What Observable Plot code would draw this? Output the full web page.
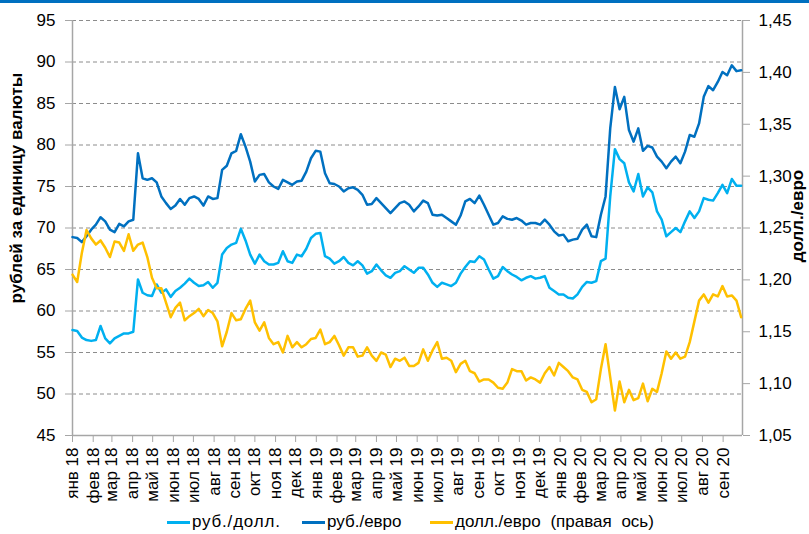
<!DOCTYPE html>
<html><head><meta charset="utf-8">
<script src="https://cdn.jsdelivr.net/npm/d3@7"></script>
<script src="https://cdn.jsdelivr.net/npm/@observablehq/plot@0.6"></script>
<style>
body{margin:0;background:#fff;font-family:"Liberation Sans",Arial,sans-serif;}
#wrap{position:relative;width:809px;height:534px;overflow:hidden;background:#fff;}
#topline{position:absolute;left:0;top:0;width:809px;height:3px;background:#0070C0;}
#chart{position:absolute;left:0;top:0;}
.ytitle{position:absolute;font-weight:bold;font-size:17px;white-space:nowrap;transform:translate(-50%,-50%) rotate(-90deg);color:#000;}
#legend{position:absolute;top:508px;left:0;width:809px;height:28px;font-size:17px;color:#000;}
.item{position:absolute;top:0;height:28px;display:flex;align-items:center;white-space:pre;}
.swatch{display:inline-block;width:23px;height:3px;margin-right:2px;}
</style></head>
<body>
<div id="wrap">
  <div id="topline"></div>
  <div id="chart"></div>
  <div class="ytitle" style="left:17px;top:188px;">рублей за единицу валюты</div>
  <div class="ytitle" style="left:798px;top:216px;">долл./евро</div>
  <div id="legend"></div>
</div>
<script>
// ---- data (weekly observations from 2018-01-01) ----
const startDate = "2018-01-01";
const stepDays = 7;
const rubUsd = [
57.7,57.6,56.8,56.5,56.4,56.5,58.2,56.7,56.1,56.7,
57.0,57.3,57.3,57.5,63.8,62.2,61.9,61.8,63.2,62.2,
62.6,61.7,62.4,62.8,63.3,63.9,63.4,63.0,63.1,63.5,
62.8,63.4,66.8,67.6,68.0,68.2,69.9,68.5,66.8,65.7,
66.8,66.0,65.6,65.6,65.8,67.2,66.0,65.8,66.8,66.6,
67.5,68.8,69.3,69.4,66.6,66.3,65.7,66.0,66.5,65.8,
65.5,66.0,65.5,64.5,64.8,65.6,64.9,64.3,64.0,64.6,
64.8,65.4,65.0,64.6,65.2,65.2,64.4,63.4,62.9,63.4,
63.2,63.0,63.4,64.5,65.3,66.0,65.9,66.6,66.2,65.0,
63.9,64.2,65.3,64.8,64.4,64.1,63.7,64.0,64.2,63.9,
64.0,64.2,62.8,62.4,62.0,62.0,61.6,61.5,62.0,62.9,
63.5,63.4,63.6,66.0,66.3,73.8,79.5,78.3,77.8,75.5,
74.4,76.5,73.8,74.9,74.3,72.0,71.0,69.0,69.5,70.0,
69.5,70.8,72.0,71.2,72.0,73.6,73.4,73.3,74.2,75.2,
74.2,75.9,75.1,75.1];
const rubEur = [
68.9,68.8,68.3,69.0,69.8,70.4,71.3,70.8,69.8,69.5,
70.5,70.2,70.8,71.0,79.0,76.0,75.8,76.0,75.5,73.8,
73.0,72.3,72.7,73.5,72.8,73.6,73.8,73.5,72.7,73.8,
73.5,73.6,77.0,77.5,79.0,79.3,81.3,79.8,78.0,75.6,
76.4,76.5,75.5,75.0,74.7,75.8,75.5,75.2,75.6,75.7,
76.8,78.4,79.3,79.2,76.6,75.4,75.3,75.0,74.4,74.8,
74.9,74.6,74.0,72.8,72.9,73.6,73.0,72.4,71.8,72.4,
73.0,73.2,72.8,72.0,72.6,73.3,73.0,71.6,71.5,71.6,
71.2,70.8,70.4,71.5,73.2,73.5,73.0,73.9,72.8,71.6,
70.4,70.6,71.4,71.1,71.0,71.2,70.9,70.4,70.6,70.6,
70.4,71.0,70.4,69.6,69.1,69.2,68.4,68.6,68.7,69.8,
70.4,69.0,68.9,71.6,73.8,82.0,87.0,84.3,85.8,81.8,
80.4,82.0,79.3,79.9,79.7,78.6,78.0,77.2,78.0,78.6,
77.8,79.2,81.2,81.0,82.6,85.8,87.1,86.6,87.6,88.8,
88.4,89.6,88.9,89.0];
const eurUsd = [
1.205,1.198,1.226,1.248,1.240,1.234,1.238,1.231,1.222,1.237,
1.236,1.228,1.244,1.228,1.234,1.236,1.222,1.202,1.192,1.192,
1.178,1.164,1.173,1.178,1.161,1.165,1.168,1.172,1.165,1.171,
1.168,1.160,1.136,1.150,1.168,1.161,1.162,1.172,1.180,1.159,
1.151,1.159,1.144,1.138,1.140,1.130,1.146,1.135,1.140,1.135,
1.138,1.143,1.144,1.152,1.138,1.140,1.146,1.137,1.127,1.135,
1.135,1.126,1.127,1.135,1.127,1.122,1.130,1.128,1.116,1.124,
1.122,1.125,1.117,1.117,1.120,1.133,1.122,1.132,1.140,1.124,
1.125,1.122,1.111,1.119,1.122,1.112,1.110,1.102,1.104,1.104,
1.101,1.096,1.095,1.101,1.114,1.112,1.112,1.103,1.106,1.104,
1.101,1.110,1.116,1.108,1.120,1.116,1.112,1.106,1.104,1.094,
1.092,1.082,1.085,1.114,1.138,1.106,1.074,1.102,1.082,1.094,
1.084,1.086,1.100,1.083,1.095,1.092,1.110,1.131,1.124,1.130,
1.124,1.126,1.140,1.160,1.180,1.186,1.178,1.186,1.184,1.194,
1.184,1.185,1.180,1.164];
const seriesNames = ["руб./долл.", "руб./евро", "долл./евро (правая ось)"];
const monthNames = ["янв","фев","мар","апр","май","июн","июл","авг","сен","окт","ноя","дек"];
const leftTicks = [45,50,55,60,65,70,75,80,85,90,95];
const rightTicks = [1.05,1.10,1.15,1.20,1.25,1.30,1.35,1.40,1.45];
const xStart = "2018-01-01", xEnd = "2020-09-30";

// ---- build ----
const colors = ["#00B0F0", "#0070C0", "#FFC000"];
const leftDom = [45, 95], rightDom = [1.05, 1.45];
const toL = r => leftDom[0] + (r - rightDom[0]) * (leftDom[1] - leftDom[0]) / (rightDom[1] - rightDom[0]);
const toR = l => rightDom[0] + (l - leftDom[0]) * (rightDom[1] - rightDom[0]) / (leftDom[1] - leftDom[0]);
const t0 = new Date(startDate + "T00:00:00Z");
const dates = rubUsd.map((_, i) => d3.utcDay.offset(t0, i * stepDays));
const rows = dates.map((d, i) => ({date: d, usd: rubUsd[i], eur: rubEur[i], eu: toL(eurUsd[i])}));
const x0 = new Date(xStart + "T00:00:00Z"), x1 = new Date(xEnd + "T00:00:00Z");
const months = d3.utcMonth.range(x0, x1);
const fmtR = v => toR(v).toFixed(2).replace(".", ",");
const fmtM = d => monthNames[d.getUTCMonth()] + " " + String(d.getUTCFullYear()).slice(2);
const axisGray = "#a6a6a6";

const chart = Plot.plot({
  width: 809, height: 510,
  marginLeft: 72, marginRight: 67, marginTop: 20, marginBottom: 75,
  style: {fontFamily: '"Liberation Sans", Arial, sans-serif', fontSize: "17px", color: "#000", background: "transparent", overflow: "visible"},
  x: {type: "utc", domain: [x0, x1]},
  y: {domain: leftDom},
  marks: [
    Plot.gridY(leftTicks.filter(d => d > leftDom[0]), {stroke: "#8c8c8c", strokeOpacity: 1, strokeDasharray: "4,3", strokeWidth: 1}),
    Plot.ruleX([x0, x1], {stroke: axisGray, strokeWidth: 1.5}),
    Plot.ruleY([leftDom[0]], {stroke: axisGray, strokeWidth: 1.5}),
    Plot.axisY(leftTicks, {anchor: "left", tickSize: 7, tickPadding: 10, stroke: axisGray, fill: "#000", label: null, fontSize: 17}),
    Plot.axisY(rightTicks.map(toL), {anchor: "right", tickSize: 7, tickPadding: 9, stroke: axisGray, fill: "#000", tickFormat: fmtR, label: null, fontSize: 17}),
    Plot.axisX(months, {anchor: "bottom", tickSize: 7, tickPadding: 5, tickRotate: -90, stroke: axisGray, fill: "#000", tickFormat: fmtM, label: null, fontSize: 17}),
    Plot.lineY(rows, {x: "date", y: "eur", stroke: colors[1], strokeWidth: 2.5}),
    Plot.lineY(rows, {x: "date", y: "usd", stroke: colors[0], strokeWidth: 2.5}),
    Plot.lineY(rows, {x: "date", y: "eu", stroke: colors[2], strokeWidth: 2.5})
  ]
});
document.getElementById("chart").appendChild(chart);

// legend
const legendX = [167, 302, 430];
const legendLetter = ["0.8px", "0px", "0px"];
const legendWord = ["0px", "0px", "5px"];
const legend = document.getElementById("legend");
seriesNames.forEach((name, i) => {
  const it = document.createElement("div");
  it.className = "item";
  it.style.left = legendX[i] + "px";
  const sw = document.createElement("span");
  sw.className = "swatch";
  sw.style.background = colors[i];
  it.appendChild(sw);
  const tx = document.createElement("span");
  tx.textContent = name;
  tx.style.letterSpacing = legendLetter[i];
  tx.style.wordSpacing = legendWord[i];
  it.appendChild(tx);
  legend.appendChild(it);
});
</script>
</body></html>
